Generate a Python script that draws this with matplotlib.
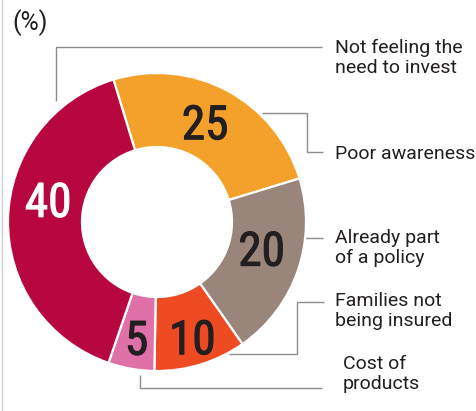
import matplotlib
matplotlib.use("Agg")
import matplotlib.pyplot as plt
import matplotlib.patheffects as pe
from matplotlib.lines import Line2D
import numpy as np

# ---- data -------------------------------------------------------------
categories = [
    "Poor awareness",
    "Already part\nof a policy",
    "Families not\nbeing insured",
    "Cost of\nproducts",
    "Not feeling the\nneed to invest",
]
shares = [25, 20, 10, 5, 40]
value_labels = ["25", "20", "10", "5", "40"]
unit_label = "(%)"

# ---- style ------------------------------------------------------------
colors = ["#F4A12B", "#9A857A", "#EE4B22", "#E070A8", "#B8073F"]
number_colors = ["#231F20", "#231F20", "#231F20", "#231F20", "#FFFFFF"]
TEXT = "#231F20"
LEADER = "#8C8C8C"
NUM_FONT = ["Roboto Condensed", "Liberation Sans Narrow", "Roboto", "DejaVu Sans"]
LBL_FONT = ["Roboto", "DejaVu Sans"]

W, H = 477, 411
fig = plt.figure(figsize=(W / 100, H / 100), dpi=100)
fig.patch.set_facecolor("white")
ax = fig.add_axes([0, 0, 1, 1])


def py(y):
    """Convert a top-down pixel row into the axes' upward y."""
    return H - y


cx, cy = 157, py(222)
R_OUT, RING = 149, 74

wedges, _ = ax.pie(
    shares,
    startangle=107,
    counterclock=False,
    radius=R_OUT,
    center=(cx, cy),
    colors=colors,
    wedgeprops=dict(width=RING, edgecolor="white", linewidth=1.6),
)
ax.set_xlim(0, W)
ax.set_ylim(0, H)
ax.set_aspect("equal")
ax.axis("off")

# value numbers sit along each wedge's mid-angle
label_radius = [0.742, 0.725, 0.81, 0.79, 0.745]
angle_nudge = [2.2, 4.6, 0.0, 0.0, -10.4]
num_size = 34
cap_px = 33.5
for w, txt, col, rf, dn in zip(wedges, value_labels, number_colors,
                               label_radius, angle_nudge):
    mid = np.deg2rad((w.theta1 + w.theta2) / 2 + dn)
    x = cx + rf * R_OUT * np.cos(mid)
    y = cy + rf * R_OUT * np.sin(mid)
    ax.text(x, y - cap_px / 2, txt, ha="center", va="baseline",
            fontsize=num_size, color=col, family=NUM_FONT,
            fontweight="normal", fontstretch="condensed",
            path_effects=[pe.withStroke(linewidth=0.8, foreground=col)])

# leader lines (top-down pixel coordinates) and category captions
leaders = [
    [(262, 113), (307, 113), (307, 152), (323, 152)],
    [(305, 238), (323, 238)],
    [(229, 354), (297, 354), (297, 302), (324, 302)],
    [(140, 375), (140, 388), (322, 388)],
    [(56, 101), (56, 47), (322, 47)],
]
caption_x = [335, 335, 335, 343, 335]
caption_base = [159, 243, 306, 369, 53]
LINE_STEP = 20

for path, cat, tx, tb in zip(leaders, categories, caption_x, caption_base):
    xs = [p[0] for p in path]
    ys = [py(p[1]) for p in path]
    ax.plot(xs, ys, color=LEADER, lw=1.0, solid_capstyle="butt",
            solid_joinstyle="miter", zorder=0)
    for i, line in enumerate(cat.split("\n")):
        ax.text(tx, py(tb + i * LINE_STEP), line, ha="left", va="baseline",
                fontsize=14, color=TEXT, family=LBL_FONT)

ax.text(12, py(30), unit_label, ha="left", va="baseline", fontsize=18,
        color=TEXT, family=LBL_FONT)

# thin frame rule down the left edge
fig.add_artist(Line2D([2 / W, 2 / W], [0, 1], transform=fig.transFigure,
                      color="#CFCFCF", lw=1.0))

fig.savefig("out.png", dpi=100, facecolor="white")
